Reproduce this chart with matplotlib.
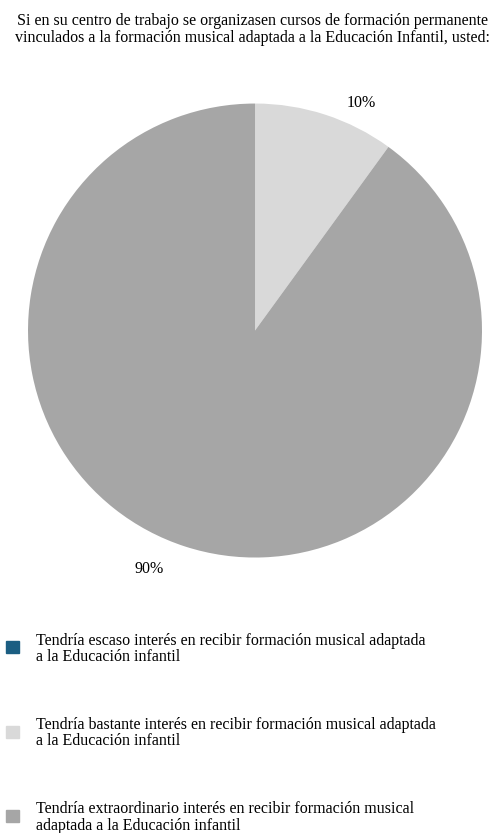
import numpy as np
import matplotlib.pyplot as plt

plt.rcParams["font.family"] = ["Liberation Serif", "DejaVu Serif"]

title = ("Si en su centro de trabajo se organizasen cursos de formación permanente\n"
         "vinculados a la formación musical adaptada a la Educación Infantil, usted:")
categories = [
    "Tendría escaso interés en recibir formación musical adaptada\na la Educación infantil",
    "Tendría bastante interés en recibir formación musical adaptada\na la Educación infantil",
    "Tendría extraordinario interés en recibir formación musical\nadaptada a la Educación infantil",
]
values = [0, 10, 90]
colors = ["#1b5e82", "#d9d9d9", "#a6a6a6"]

fig = plt.figure(figsize=(4.93, 8.33), dpi=100)

fig.text(0.512, 0.984, title, ha="center", va="top", fontsize=11.5, linespacing=1.05)

ax = fig.add_axes([0.0568, 0.3307, 0.9209, 0.545])
wedges, _ = ax.pie(values, colors=colors, startangle=90, counterclock=False)
ax.set_aspect("equal")
ax.set_xlim(-1, 1)
ax.set_ylim(-1, 1)
ax.axis("off")

# percentage labels just outside each non-empty wedge
for w, v in zip(wedges, values):
    if v <= 0:
        continue
    ang = np.deg2rad((w.theta1 + w.theta2) / 2 - 6.5)
    ax.text(1.128 * np.cos(ang), 1.128 * np.sin(ang) - 0.022, f"{v}%",
            ha="center", va="center", fontsize=11.5)

# legend rows: square marker + two-line label
square_y = [0.2233, 0.1207, 0.0204]
text_y = [0.2209, 0.1200, 0.0186]
for sy, ty, label, c in zip(square_y, text_y, categories, colors):
    fig.patches.append(plt.Rectangle((0.0122, sy - 0.0072), 0.0264, 0.0144,
                                     transform=fig.transFigure, color=c))
    fig.text(0.073, ty, label, ha="left", va="center", fontsize=11.5,
             linespacing=1.05)

fig.savefig("out.png", dpi=100)
